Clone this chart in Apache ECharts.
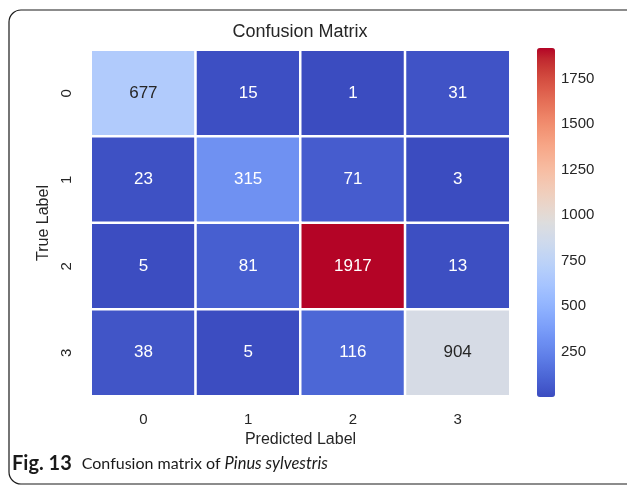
<!DOCTYPE html>
<html>
<head>
<meta charset="utf-8">
<script src="https://cdn.jsdelivr.net/npm/echarts@6/dist/echarts.min.js"></script>
<style>
  html, body { margin: 0; padding: 0; background: #fff; }
  #chart { width: 627px; height: 487px; }
</style>
</head>
<body>
<div id="chart"></div>
<script>
// Class labels for both axes
const predictedLabels = ['0', '1', '2', '3'];
const trueLabels = ['0', '1', '2', '3'];

// Confusion matrix rows (true label) by columns (predicted label)
const row0 = [677, 15, 1, 31];
const row1 = [23, 315, 71, 3];
const row2 = [5, 81, 1917, 13];
const row3 = [38, 5, 116, 904];
const matrix = [row0, row1, row2, row3];

// Colour bar ticks
const colorbarTicks = [250, 500, 750, 1000, 1250, 1500, 1750];

// coolwarm colour ramp
const coolwarm = [
  '#3b4cc0', '#445acc', '#4d68d7', '#5775e1', '#6282ea', '#6c8ef1', '#779af7', '#82a5fb',
  '#8db0fe', '#98b9ff', '#a3c2ff', '#aec9fd', '#b8d0f9', '#c2d5f4', '#ccd9ee', '#d5dbe6',
  '#dddddd', '#e5d8d1', '#ecd3c5', '#f1ccb9', '#f5c4ad', '#f7bba0', '#f7b194', '#f7a687',
  '#f49a7b', '#f18d6f', '#ec7f63', '#e57058', '#de604d', '#d55042', '#cb3e38', '#c0282f',
  '#b40426'
];

const flat = matrix.flat();
const vMin = Math.min(...flat);
const vMax = Math.max(...flat);

const cells = [];
matrix.forEach((row, r) => row.forEach((v, c) => cells.push([c, r, v])));

// Light cells get dark text, dark cells get white text
function textColor(v) {
  const t = (v - vMin) / (vMax - vMin);
  return (t > 0.28 && t < 0.72) ? '#262626' : '#ffffff';
}

const FONT = '"Liberation Sans", Arial, sans-serif';
const CAPTION_FONT = 'Lato, "Open Sans", sans-serif';
const INK = '#262626';

const chart = echarts.init(document.getElementById('chart'), null, { renderer: 'canvas' });

chart.setOption({
  backgroundColor: '#ffffff',
  animation: false,
  textStyle: { fontFamily: FONT },
  grid: [
    { left: 91, top: 50, width: 419, height: 346 },
    { left: 537, top: 48, width: 18, height: 349 }
  ],
  xAxis: [
    {
      type: 'category', data: predictedLabels, gridIndex: 0, position: 'bottom',
      axisLine: { show: false }, axisTick: { show: false }, splitLine: { show: false },
      axisLabel: { color: INK, fontSize: 15, margin: 16, fontFamily: FONT },
      name: 'Predicted Label', nameLocation: 'middle', nameGap: 35,
      nameTextStyle: { color: INK, fontSize: 16, fontFamily: FONT }
    },
    { type: 'value', gridIndex: 1, show: false, min: 0, max: 1 }
  ],
  yAxis: [
    {
      type: 'category', data: trueLabels, gridIndex: 0, inverse: true,
      axisLine: { show: false }, axisTick: { show: false }, splitLine: { show: false },
      axisLabel: { color: INK, fontSize: 15, rotate: 90, margin: 17, fontFamily: FONT },
      name: 'True Label', nameLocation: 'middle', nameGap: 39, nameRotate: 90,
      nameTextStyle: { color: INK, fontSize: 16, fontFamily: FONT }
    },
    {
      type: 'value', gridIndex: 1, position: 'right', min: vMin, max: vMax,
      axisLine: { show: false }, splitLine: { show: false },
      axisTick: { show: true, length: 7, customValues: colorbarTicks, lineStyle: { color: INK, width: 1.5 } },
      axisLabel: {
        color: INK, fontSize: 15, margin: 6, customValues: colorbarTicks, fontFamily: FONT,
        formatter: v => String(v)
      }
    }
  ],
  visualMap: {
    type: 'continuous', min: vMin, max: vMax, calculable: false, show: true,
    seriesIndex: 0, orient: 'vertical', left: 537, top: 48,
    itemWidth: 18, itemHeight: 349, padding: 0, text: null, showLabel: false,
    inRange: { color: coolwarm }, hoverLink: false
  },
  series: [
    {
      type: 'heatmap', xAxisIndex: 0, yAxisIndex: 0,
      data: cells.map(d => ({ value: d, label: { color: textColor(d[2]) } })),
      itemStyle: { borderColor: '#ffffff', borderWidth: 2.5 },
      label: {
        show: true, fontSize: 17, fontFamily: FONT,
        formatter: p => String(p.value[2])
      },
      emphasis: { disabled: true }
    },
    {
      type: 'scatter', xAxisIndex: 1, yAxisIndex: 1, data: [], silent: true
    }
  ],
  graphic: [
    {
      type: 'rect', silent: true, z: -1,
      shape: { x: 9, y: 10, width: 700, height: 474, r: 12 },
      style: { fill: 'none', stroke: '#1a1a1a', lineWidth: 1.2 }
    },
    {
      type: 'text', x: 300, y: 32,
      style: {
        text: 'Confusion Matrix', fill: INK, font: '18px ' + FONT,
        align: 'center', verticalAlign: 'middle'
      }
    },
    {
      type: 'text', x: 12, y: 464,
      style: {
        text: '{b|Fig. 13}{g| }{r|Confusion matrix of }{i|Pinus sylvestris}',
        verticalAlign: 'middle',
        rich: {
          b: { fontFamily: CAPTION_FONT, fontWeight: 'bold', fontSize: 20, fill: '#1a1a1a' },
          g: { fontFamily: CAPTION_FONT, fontSize: 17, width: 10 },
          r: { fontFamily: CAPTION_FONT, fontSize: 16, fill: '#1a1a1a' },
          i: { fontFamily: CAPTION_FONT, fontStyle: 'italic', fontSize: 16.5, fill: '#1a1a1a' }
        }
      }
    }
  ]
});
</script>
</body>
</html>
